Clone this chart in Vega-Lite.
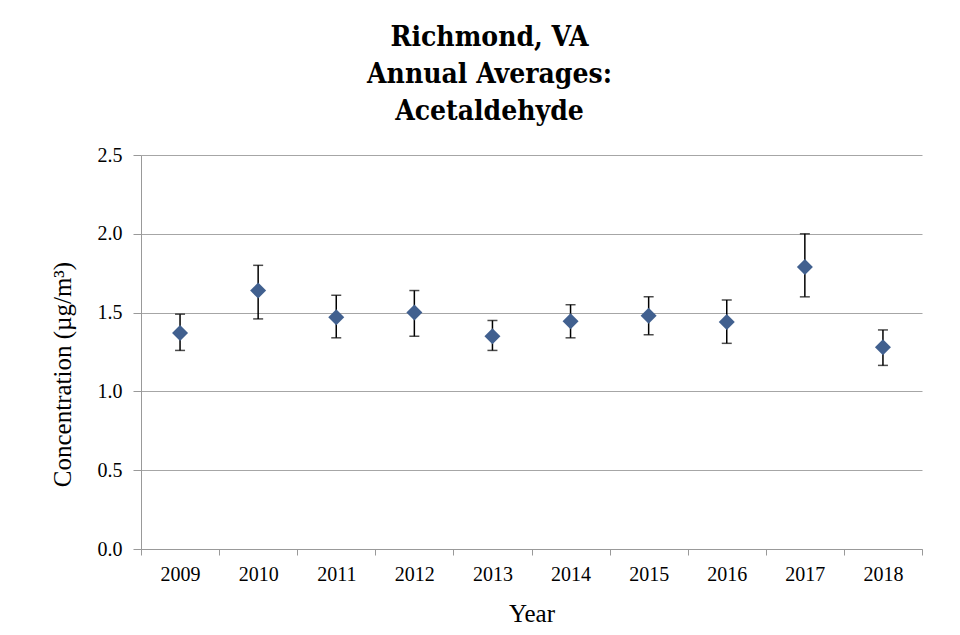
{
  "$schema": "https://vega.github.io/schema/vega-lite/v6.json",
  "autosize": {"type": "none"},
  "padding": {"left": 141, "top": 155, "right": 38, "bottom": 86},
  "width": 781,
  "height": 394,
  "background": "white",
  "title": {
    "text": ["Richmond, VA", "Annual Averages:", "Acetaldehyde"],
    "font": "DejaVu Serif Condensed",
    "fontSize": 28,
    "fontWeight": "bold",
    "lineHeight": 37,
    "color": "black",
    "anchor": "middle",
    "frame": "group",
    "dx": -42,
    "offset": 19
  },
  "data": {
    "values": [
      {"year": "2009", "mean": 1.37, "lo": 1.26, "hi": 1.49},
      {"year": "2010", "mean": 1.64, "lo": 1.46, "hi": 1.80},
      {"year": "2011", "mean": 1.47, "lo": 1.34, "hi": 1.61},
      {"year": "2012", "mean": 1.50, "lo": 1.35, "hi": 1.64},
      {"year": "2013", "mean": 1.35, "lo": 1.26, "hi": 1.45},
      {"year": "2014", "mean": 1.445, "lo": 1.34, "hi": 1.55},
      {"year": "2015", "mean": 1.48, "lo": 1.36, "hi": 1.60},
      {"year": "2016", "mean": 1.44, "lo": 1.305, "hi": 1.58},
      {"year": "2017", "mean": 1.79, "lo": 1.60, "hi": 2.00},
      {"year": "2018", "mean": 1.28, "lo": 1.165, "hi": 1.39}
    ]
  },
  "encoding": {
    "x": {
      "field": "year",
      "type": "ordinal",
      "scale": {"type": "band", "paddingInner": 0, "paddingOuter": 0},
      "axis": {
        "title": "Year",
        "titleFont": "Liberation Serif",
        "titleFontSize": 25,
        "titleFontWeight": "normal",
        "titleColor": "black",
        "titlePadding": 17,
        "labelFont": "Liberation Serif",
        "labelFontSize": 20,
        "labelColor": "black",
        "labelAngle": 0,
        "labelPadding": 9,
        "tickBand": "extent",
        "tickSize": 6,
        "tickColor": "#999999",
        "domainColor": "#999999",
        "grid": false
      }
    }
  },
  "layer": [
    {
      "mark": {"type": "rule", "color": "black", "strokeWidth": 1.5},
      "encoding": {
        "y": {
          "field": "lo",
          "type": "quantitative",
          "scale": {"domain": [0, 2.5], "nice": false},
          "axis": {
            "title": "Concentration (µg/m³)",
            "titleFont": "Liberation Serif",
            "titleFontSize": 25,
            "titleFontWeight": "normal",
            "titleColor": "black",
            "titlePadding": 22,
            "titleY": 219,
            "labelFont": "Liberation Serif",
            "labelFontSize": 20,
            "labelColor": "black",
            "labelPadding": 11,
            "values": [0, 0.5, 1, 1.5, 2, 2.5],
            "format": ".1f",
            "tickSize": 8,
            "tickColor": "#999999",
            "domainColor": "#999999",
            "grid": true,
            "gridColor": "#a6a6a6",
            "gridWidth": 1
          }
        },
        "y2": {"field": "hi"}
      }
    },
    {
      "mark": {"type": "tick", "color": "black", "size": 10, "thickness": 1.5, "orient": "horizontal"},
      "encoding": {"y": {"field": "hi", "type": "quantitative"}}
    },
    {
      "mark": {"type": "tick", "color": "black", "size": 10, "thickness": 1.5, "orient": "horizontal"},
      "encoding": {"y": {"field": "lo", "type": "quantitative"}}
    },
    {
      "mark": {"type": "point", "shape": "diamond", "filled": true, "size": 256, "color": "#41608f", "opacity": 1},
      "encoding": {"y": {"field": "mean", "type": "quantitative"}}
    }
  ],
  "config": {
    "view": {"stroke": null},
    "font": "Liberation Serif"
  }
}
